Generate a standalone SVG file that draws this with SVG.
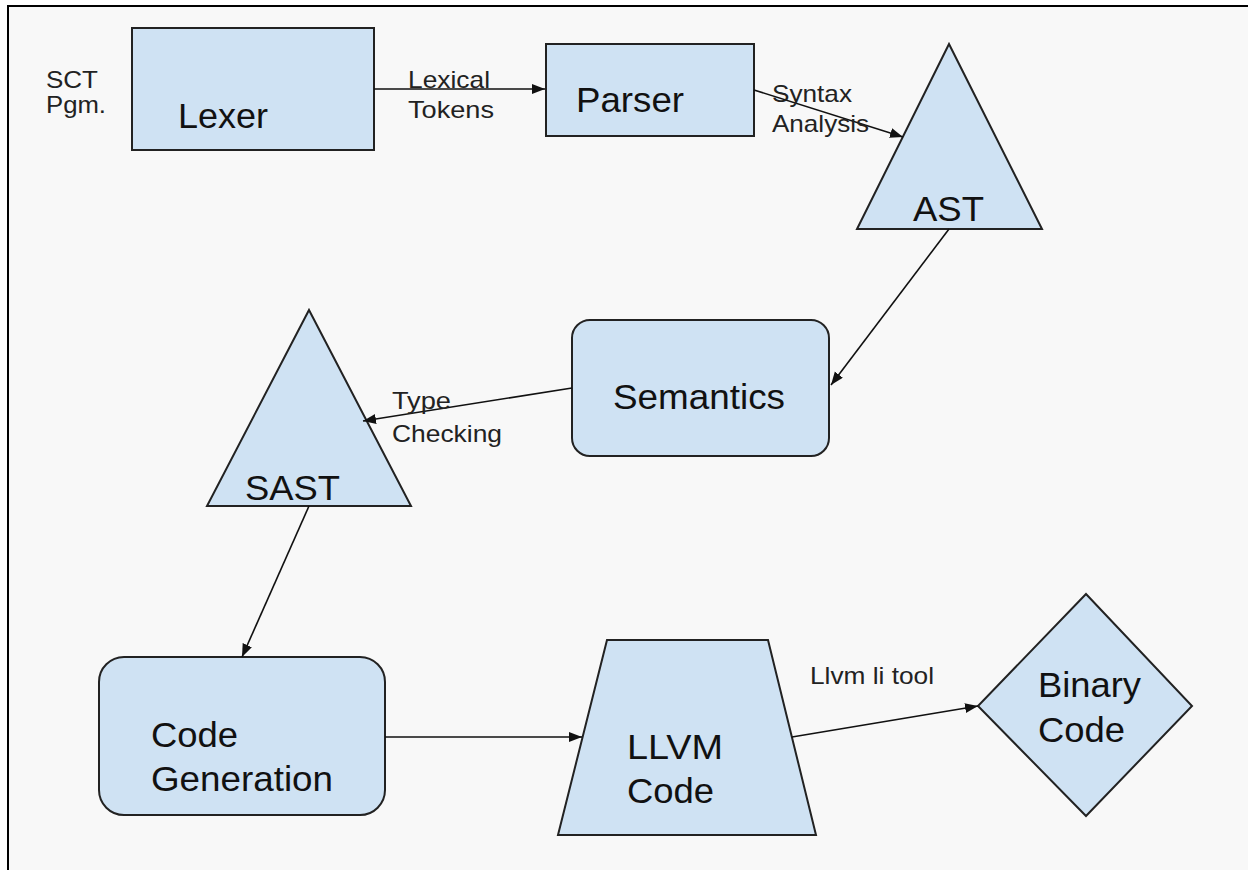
<svg xmlns="http://www.w3.org/2000/svg" width="1248" height="870" viewBox="0 0 1248 870">
  <style>
    .shape { fill: #cfe2f3; stroke: #222; stroke-width: 2; }
    .big { font-family: "Liberation Sans", Arial, sans-serif; font-size: 35px; fill: #111; }
    .small { font-family: "Liberation Sans", Arial, sans-serif; font-size: 24px; fill: #222; }
    .edge { fill: none; stroke: #111; stroke-width: 1.6; marker-end: url(#arrow); }
  </style>
  <defs>
    <marker id="arrow" markerUnits="userSpaceOnUse" markerWidth="15" markerHeight="11" refX="13" refY="5" orient="auto">
      <path d="M0,0 L13,5 L0,10 z" fill="#111"/>
    </marker>
  </defs>

  <!-- page -->
  <rect x="0" y="0" width="1248" height="870" fill="#ffffff"/>
  <rect x="8" y="6" width="1240" height="864" fill="#f8f8f8"/>
  <path d="M8,870 V6 H1248" fill="none" stroke="#000" stroke-width="2"/>

  <!-- free-standing input label -->
  <g id="input-label">
    <text class="small" x="46" y="88" textLength="52" lengthAdjust="spacingAndGlyphs">SCT</text>
    <text class="small" x="46" y="113" textLength="60" lengthAdjust="spacingAndGlyphs">Pgm.</text>
  </g>

  <g id="lexer">
    <rect class="shape" x="132" y="28" width="242" height="122"/>
    <text class="big" x="178" y="128" textLength="90" lengthAdjust="spacingAndGlyphs">Lexer</text>
  </g>

  <g id="parser">
    <rect class="shape" x="546" y="44" width="208" height="92"/>
    <text class="big" x="576" y="112" textLength="108" lengthAdjust="spacingAndGlyphs">Parser</text>
  </g>

  <g id="ast">
    <polygon class="shape" points="949,44 1042,229 857,229"/>
    <text class="big" x="913" y="221" textLength="71" lengthAdjust="spacingAndGlyphs">AST</text>
  </g>

  <g id="semantics">
    <rect class="shape" x="572" y="320" width="257" height="136" rx="18" ry="18"/>
    <text class="big" x="613" y="409" textLength="172" lengthAdjust="spacingAndGlyphs">Semantics</text>
  </g>

  <g id="sast">
    <polygon class="shape" points="309,310 411,506 207,506"/>
    <text class="big" x="245" y="500" textLength="95" lengthAdjust="spacingAndGlyphs">SAST</text>
  </g>

  <g id="codegen">
    <rect class="shape" x="99" y="657" width="286" height="158" rx="25" ry="25"/>
    <text class="big" x="151" y="747" textLength="87" lengthAdjust="spacingAndGlyphs">Code</text>
    <text class="big" x="151" y="791" textLength="182" lengthAdjust="spacingAndGlyphs">Generation</text>
  </g>

  <g id="llvm">
    <polygon class="shape" points="607,640 768,640 816,835 558,835"/>
    <text class="big" x="627" y="759" textLength="96" lengthAdjust="spacingAndGlyphs">LLVM</text>
    <text class="big" x="627" y="803" textLength="87" lengthAdjust="spacingAndGlyphs">Code</text>
  </g>

  <g id="binary">
    <polygon class="shape" points="1086,594 1192,706 1086,816 978,706"/>
    <text class="big" x="1038" y="697" textLength="103" lengthAdjust="spacingAndGlyphs">Binary</text>
    <text class="big" x="1038" y="742" textLength="87" lengthAdjust="spacingAndGlyphs">Code</text>
  </g>

  <g id="connectors">
    <line class="edge" x1="374" y1="89" x2="545" y2="89"/>
    <line class="edge" x1="754" y1="90" x2="903" y2="137"/>
    <line class="edge" x1="949" y1="229" x2="831" y2="385"/>
    <line class="edge" x1="572" y1="388" x2="363" y2="421"/>
    <line class="edge" x1="309" y1="506" x2="242" y2="657"/>
    <line class="edge" x1="385" y1="737" x2="582" y2="737"/>
    <line class="edge" x1="792" y1="737" x2="978" y2="706"/>

    <text class="small" x="408" y="88" textLength="82" lengthAdjust="spacingAndGlyphs">Lexical</text>
    <text class="small" x="408" y="118" textLength="86" lengthAdjust="spacingAndGlyphs">Tokens</text>
    <text class="small" x="772" y="102" textLength="80" lengthAdjust="spacingAndGlyphs">Syntax</text>
    <text class="small" x="772" y="132" textLength="97" lengthAdjust="spacingAndGlyphs">Analysis</text>
    <text class="small" x="392" y="409" textLength="59" lengthAdjust="spacingAndGlyphs">Type</text>
    <text class="small" x="392" y="442" textLength="110" lengthAdjust="spacingAndGlyphs">Checking</text>
    <text class="small" x="810" y="684" textLength="124" lengthAdjust="spacingAndGlyphs">Llvm li tool</text>
  </g>
</svg>
